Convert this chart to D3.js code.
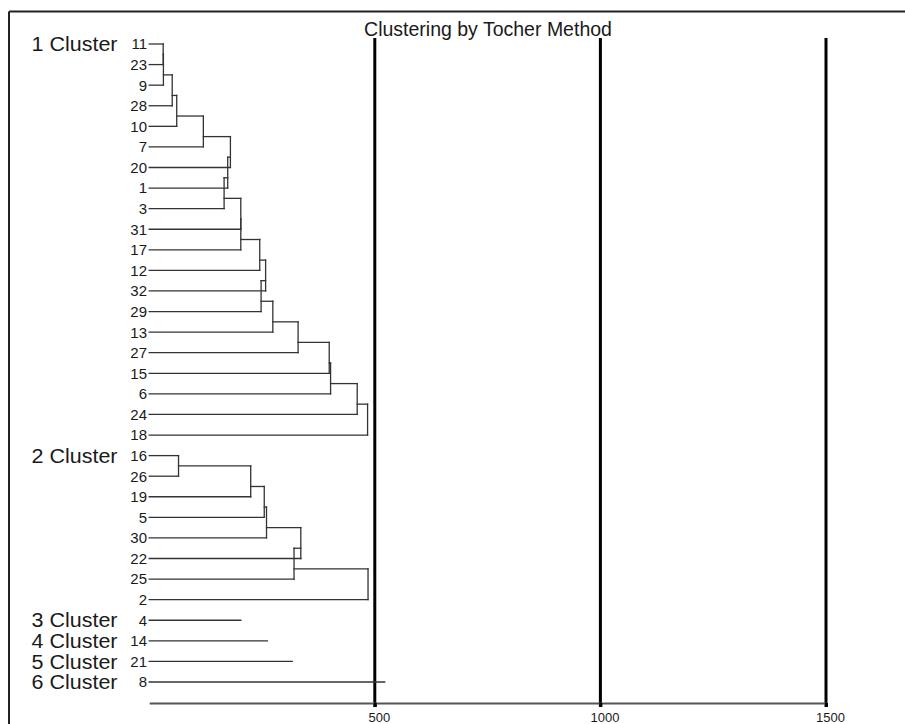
<!DOCTYPE html>
<html>
<head>
<meta charset="utf-8">
<script src="https://cdn.jsdelivr.net/npm/d3@7"></script>
<style>
  html, body { margin: 0; padding: 0; background: #fff; }
  svg { display: block; font-family: "Liberation Sans", Arial, sans-serif; }
</style>
</head>
<body>
<svg id="chart" width="905" height="724"></svg>
<script>
// ---- Data ----
const chartTitle = "Clustering by Tocher Method";
const clusterLabels = ["1 Cluster", "2 Cluster", "3 Cluster", "4 Cluster", "5 Cluster", "6 Cluster"];
// members of each cluster, in drawing order
const cluster1Members = ["11","23","9","28","10","7","20","1","3","31","17","12","32","29","13","27","15","6","24","18"];
const cluster2Members = ["16","26","19","5","30","22","25","2"];
const cluster3Members = ["4"];
const cluster4Members = ["14"];
const cluster5Members = ["21"];
const cluster6Members = ["8"];
// distance at which each member joins the group (first value = line length of first member)
const cluster1Dist = [31, 31, 31.5, 51, 61, 120, 180, 174, 166, 203, 203, 245, 258, 248, 274, 330, 399, 402, 461, 484];
const cluster2Dist = [65, 65, 225, 255, 260, 336, 321, 485];
const cluster3Dist = [203];
const cluster4Dist = [262];
const cluster5Dist = [317];
const cluster6Dist = [522];
const tickValues = [500, 1000, 1500];

const members = [cluster1Members, cluster2Members, cluster3Members, cluster4Members, cluster5Members, cluster6Members];
const dists = [cluster1Dist, cluster2Dist, cluster3Dist, cluster4Dist, cluster5Dist, cluster6Dist];

// ---- Layout ----
const svg = d3.select("#chart");
const allLeaves = members.flat();

const x = d3.scaleLinear().domain([0, 1500]).range([149.2, 826]);
const y = d3.scalePoint().domain(allLeaves).range([44, 682]);
const axisY = 703;

// frame
svg.append("line").attr("x1", 9).attr("x2", 905).attr("y1", 11.5).attr("y2", 11.5)
  .attr("stroke", "#222").attr("stroke-width", 2);
svg.append("line").attr("x1", 9).attr("x2", 9).attr("y1", 11.5).attr("y2", 724)
  .attr("stroke", "#222").attr("stroke-width", 2);

// title
svg.append("text").attr("x", 488).attr("y", 36).attr("text-anchor", "middle")
  .attr("font-size", 19.5).attr("fill", "#1a1a1a").text(chartTitle);

// thick reference lines
svg.append("g").selectAll("line").data(tickValues).join("line")
  .attr("x1", d => x(d)).attr("x2", d => x(d))
  .attr("y1", 38).attr("y2", 707)
  .attr("stroke", "#000").attr("stroke-width", 3);

// axis
const axis = d3.axisBottom(x).tickValues(tickValues).tickSizeInner(4).tickSizeOuter(0).tickFormat(d3.format("d"));
const gAxis = svg.append("g").attr("transform", `translate(0,${axisY})`).call(axis);
gAxis.select(".domain").attr("stroke", "#555").attr("stroke-width", 1.8);
gAxis.selectAll(".tick line").attr("stroke", "#000").attr("stroke-width", 3);
gAxis.selectAll(".tick text").attr("font-size", 13).attr("fill", "#1a1a1a")
  .attr("font-family", "Liberation Sans, Arial, sans-serif")
  .attr("dx", 4).attr("y", 10).attr("dy", "0.71em");

// dendrogram segments
const segs = [];
members.forEach((mem, ci) => {
  const d = dists[ci];
  mem.forEach((leaf, k) => {
    // horizontal leaf line
    segs.push([x(0), y(leaf), x(d[k]), y(leaf)]);
    if (k === 1) {
      segs.push([x(d[1]), y(mem[0]), x(d[1]), y(mem[1])]);
    } else if (k >= 2) {
      const ny = (y(mem[k - 2]) + y(mem[k - 1])) / 2;
      segs.push([x(d[k - 1]), ny, x(d[k]), ny]);
      segs.push([x(d[k]), ny, x(d[k]), y(leaf)]);
    }
  });
});
svg.append("g").selectAll("line").data(segs).join("line")
  .attr("x1", s => s[0]).attr("y1", s => s[1])
  .attr("x2", s => s[2]).attr("y2", s => s[3])
  .attr("stroke", "#333").attr("stroke-width", 1.3)
  .attr("stroke-linecap", "square");

// leaf labels
svg.append("g").selectAll("text").data(allLeaves).join("text")
  .attr("x", 147).attr("y", d => y(d)).attr("dy", "0.36em")
  .attr("text-anchor", "end").attr("font-size", 15).attr("fill", "#1a1a1a")
  .text(d => d);

// cluster labels
svg.append("g").selectAll("text").data(clusterLabels).join("text")
  .attr("x", 31.5).attr("y", (d, i) => y(members[i][0])).attr("dy", "0.36em")
  .attr("font-size", 20).attr("fill", "#1a1a1a")
  .attr("textLength", 86).attr("lengthAdjust", "spacingAndGlyphs")
  .text(d => d);
</script>
</body>
</html>
